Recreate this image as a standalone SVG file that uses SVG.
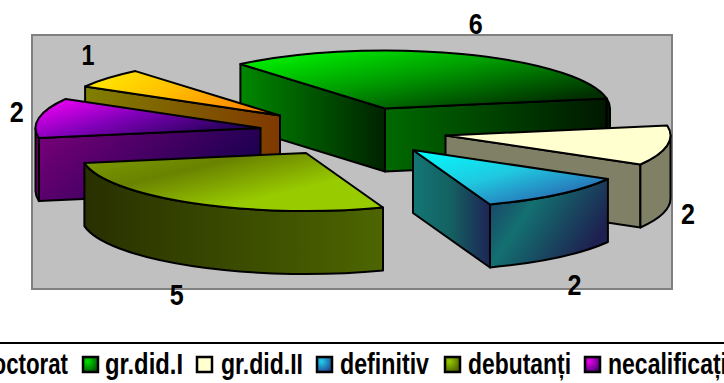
<svg xmlns="http://www.w3.org/2000/svg" width="724" height="383" viewBox="0 0 724 383">
<defs>
<linearGradient id="gTop" x1="0.15" y1="0" x2="1" y2="0.7"><stop offset="0" stop-color="#00F000"/><stop offset="0.45" stop-color="#00A000"/><stop offset="1" stop-color="#003000"/></linearGradient>
<linearGradient id="gSideL" x1="0" y1="0" x2="1" y2="0"><stop offset="0" stop-color="#008800"/><stop offset="1" stop-color="#002200"/></linearGradient>
<linearGradient id="gSideR" x1="0" y1="0" x2="1" y2="0"><stop offset="0" stop-color="#006A00"/><stop offset="1" stop-color="#001800"/></linearGradient>
<linearGradient id="yTop" x1="0" y1="0" x2="1" y2="0.3"><stop offset="0" stop-color="#FFF000"/><stop offset="0.5" stop-color="#FFC000"/><stop offset="1" stop-color="#FF8800"/></linearGradient>
<linearGradient id="ySide" x1="0" y1="0" x2="1" y2="0"><stop offset="0" stop-color="#808000"/><stop offset="1" stop-color="#803800"/></linearGradient>
<linearGradient id="pTop" x1="0" y1="0" x2="1" y2="0.6"><stop offset="0" stop-color="#FF00FF"/><stop offset="0.5" stop-color="#8000B8"/><stop offset="1" stop-color="#200055"/></linearGradient>
<linearGradient id="pSide" x1="0" y1="0" x2="1" y2="0.4"><stop offset="0" stop-color="#7A007A"/><stop offset="1" stop-color="#1A0050"/></linearGradient>
<linearGradient id="cTop" x1="0" y1="0" x2="1" y2="1"><stop offset="0" stop-color="#00FFFF"/><stop offset="0.45" stop-color="#20C8E0"/><stop offset="1" stop-color="#2C44A0"/></linearGradient>
<linearGradient id="cSideL" x1="0" y1="0" x2="1" y2="0"><stop offset="0" stop-color="#137676"/><stop offset="0.5" stop-color="#146060"/><stop offset="1" stop-color="#1E2456"/></linearGradient>
<linearGradient id="cSideO" x1="0" y1="0" x2="1" y2="0.5"><stop offset="0" stop-color="#1C3868"/><stop offset="0.4" stop-color="#137070"/><stop offset="1" stop-color="#1E2050"/></linearGradient>
<linearGradient id="oTop" x1="0" y1="0" x2="1" y2="0.8"><stop offset="0" stop-color="#809E00"/><stop offset="0.35" stop-color="#6A8200"/><stop offset="0.75" stop-color="#99CC00"/><stop offset="1" stop-color="#99CC00"/></linearGradient>
<linearGradient id="oSide" x1="0" y1="0" x2="1" y2="0"><stop offset="0" stop-color="#283000"/><stop offset="0.6" stop-color="#3E5000"/><stop offset="1" stop-color="#4D6600"/></linearGradient>
<radialGradient id="lgG" cx="0.3" cy="0.3" r="0.9"><stop offset="0" stop-color="#00E000"/><stop offset="1" stop-color="#004000"/></radialGradient>
<radialGradient id="lgC" cx="0.3" cy="0.3" r="0.9"><stop offset="0" stop-color="#20D0F0"/><stop offset="1" stop-color="#203080"/></radialGradient>
<radialGradient id="lgO" cx="0.3" cy="0.3" r="0.9"><stop offset="0" stop-color="#99CC00"/><stop offset="1" stop-color="#405000"/></radialGradient>
<radialGradient id="lgP" cx="0.3" cy="0.3" r="0.9"><stop offset="0" stop-color="#EE00EE"/><stop offset="1" stop-color="#300060"/></radialGradient>
</defs>
<style>
.f{stroke:#000;stroke-width:2;stroke-linejoin:round}
.num{font-family:"Liberation Sans",Arial,sans-serif;font-weight:bold;font-size:29px;fill:#000;text-anchor:middle}
.lg{font-family:"Liberation Sans",Arial,sans-serif;font-weight:bold;font-size:30px;fill:#000}
.sq{stroke:#000;stroke-width:2.5}
</style>
<rect x="0" y="0" width="724" height="383" fill="#FFFFFF"/>
<rect id="plot-area" x="32" y="35" width="640" height="254" fill="#C0C0C0" stroke="#808080" stroke-width="2"/>

<g id="slice-gr-did-I">
<path class="f" fill="url(#gSideL)" d="M240.4,64.1 L385,108.5 L385,171.5 L240.4,127.1 Z"/>
<path class="f" fill="url(#gSideR)" d="M385,108.5 L606.6,98.4 L606.6,161.4 L385,171.5 Z"/>
<path class="f" fill="#001800" d="M606.6,98.4 A225,58 0 0 1 610,108.5 L610,171.5 A225,58 0 0 0 606.6,161.4 Z"/>
<path class="f" fill="url(#gTop)" d="M385,108.5 L240.4,64.1 A225,58 0 0 1 606.6,98.4 Z"/>
</g>
<g id="slice-doctorat">
<path class="f" fill="url(#ySide)" d="M85.1,86.5 L280,115.5 L280,178.5 L85.1,149.5 Z"/>
<path class="f" fill="url(#yTop)" d="M280,115.5 L85.1,86.5 A225,58 0 0 1 135.4,71.1 Z"/>
</g>
<g id="slice-necalificati">
<path class="f" fill="url(#pSide)" d="M260.5,128 L38.9,138.1 L38.9,201.1 L260.5,191 Z"/>
<path class="f" fill="#6A006A" d="M38.9,138.1 A225,58 0 0 1 35.5,128 L35.5,191 A225,58 0 0 0 38.9,201.1 Z"/>
<path class="f" fill="url(#pTop)" d="M260.5,128 L38.9,138.1 A225,58 0 0 1 65.6,99 Z"/>
</g>
<g id="slice-gr-did-II">
<path class="f" fill="#808066" d="M445.5,135.5 L640.4,164.5 L640.4,227.5 L445.5,198.5 Z"/>
<path class="f" fill="#808066" d="M670.5,135.5 A225,58 0 0 1 640.4,164.5 L640.4,227.5 A225,58 0 0 0 670.5,198.5 Z"/>
<path class="f" fill="#FFFFD0" d="M445.5,135.5 L667.1,125.4 A225,58 0 0 1 640.4,164.5 Z"/>
</g>
<g id="slice-definitiv">
<path class="f" fill="url(#cSideL)" d="M413,150 L490,204.5 L490,267.5 L413,213 Z"/>
<path class="f" fill="url(#cSideO)" d="M607.9,179 A225,58 0 0 1 490,204.5 L490,267.5 A225,58 0 0 0 607.9,242 Z"/>
<path class="f" fill="url(#cTop)" d="M413,150 L607.9,179 A225,58 0 0 1 490,204.5 Z"/>
</g>
<g id="slice-debutanti">
<path class="f" fill="url(#oSide)" d="M383,207.5 A225,58 0 0 1 84.4,163.1 L84.4,226.1 A225,58 0 0 0 383,270.5 Z"/>
<path class="f" fill="url(#oTop)" d="M306,153 L383,207.5 A225,58 0 0 1 84.4,163.1 Z"/>
</g>

<g id="data-labels">
<text class="num" x="88" y="65" textLength="13" lengthAdjust="spacingAndGlyphs">1</text>
<text class="num" x="16.7" y="122" textLength="14" lengthAdjust="spacingAndGlyphs">2</text>
<text class="num" x="475.7" y="34.3" textLength="14" lengthAdjust="spacingAndGlyphs">6</text>
<text class="num" x="688" y="224" textLength="14" lengthAdjust="spacingAndGlyphs">2</text>
<text class="num" x="574.5" y="295" textLength="14" lengthAdjust="spacingAndGlyphs">2</text>
<text class="num" x="176.7" y="305" textLength="14" lengthAdjust="spacingAndGlyphs">5</text>
</g>

<g id="legend">
<line x1="0" y1="343" x2="724" y2="343" stroke="#000" stroke-width="2"/>
<text class="lg" x="-21" y="374" textLength="89" lengthAdjust="spacingAndGlyphs">doctorat</text>
<rect class="sq" x="83" y="357" width="15" height="15" fill="url(#lgG)"/>
<text class="lg" x="105" y="374" textLength="78" lengthAdjust="spacingAndGlyphs">gr.did.I</text>
<rect class="sq" x="197" y="357" width="15" height="15" fill="#FFFFD0"/>
<text class="lg" x="221" y="374" textLength="82" lengthAdjust="spacingAndGlyphs">gr.did.II</text>
<rect class="sq" x="317" y="357" width="15" height="15" fill="url(#lgC)"/>
<text class="lg" x="340" y="374" textLength="89" lengthAdjust="spacingAndGlyphs">definitiv</text>
<rect class="sq" x="445" y="357" width="15" height="15" fill="url(#lgO)"/>
<text class="lg" x="468" y="374" textLength="103" lengthAdjust="spacingAndGlyphs">debutanți</text>
<rect class="sq" x="585" y="357" width="15" height="15" fill="url(#lgP)"/>
<text class="lg" x="608" y="374" textLength="119" lengthAdjust="spacingAndGlyphs">necalificați</text>
</g>
</svg>
